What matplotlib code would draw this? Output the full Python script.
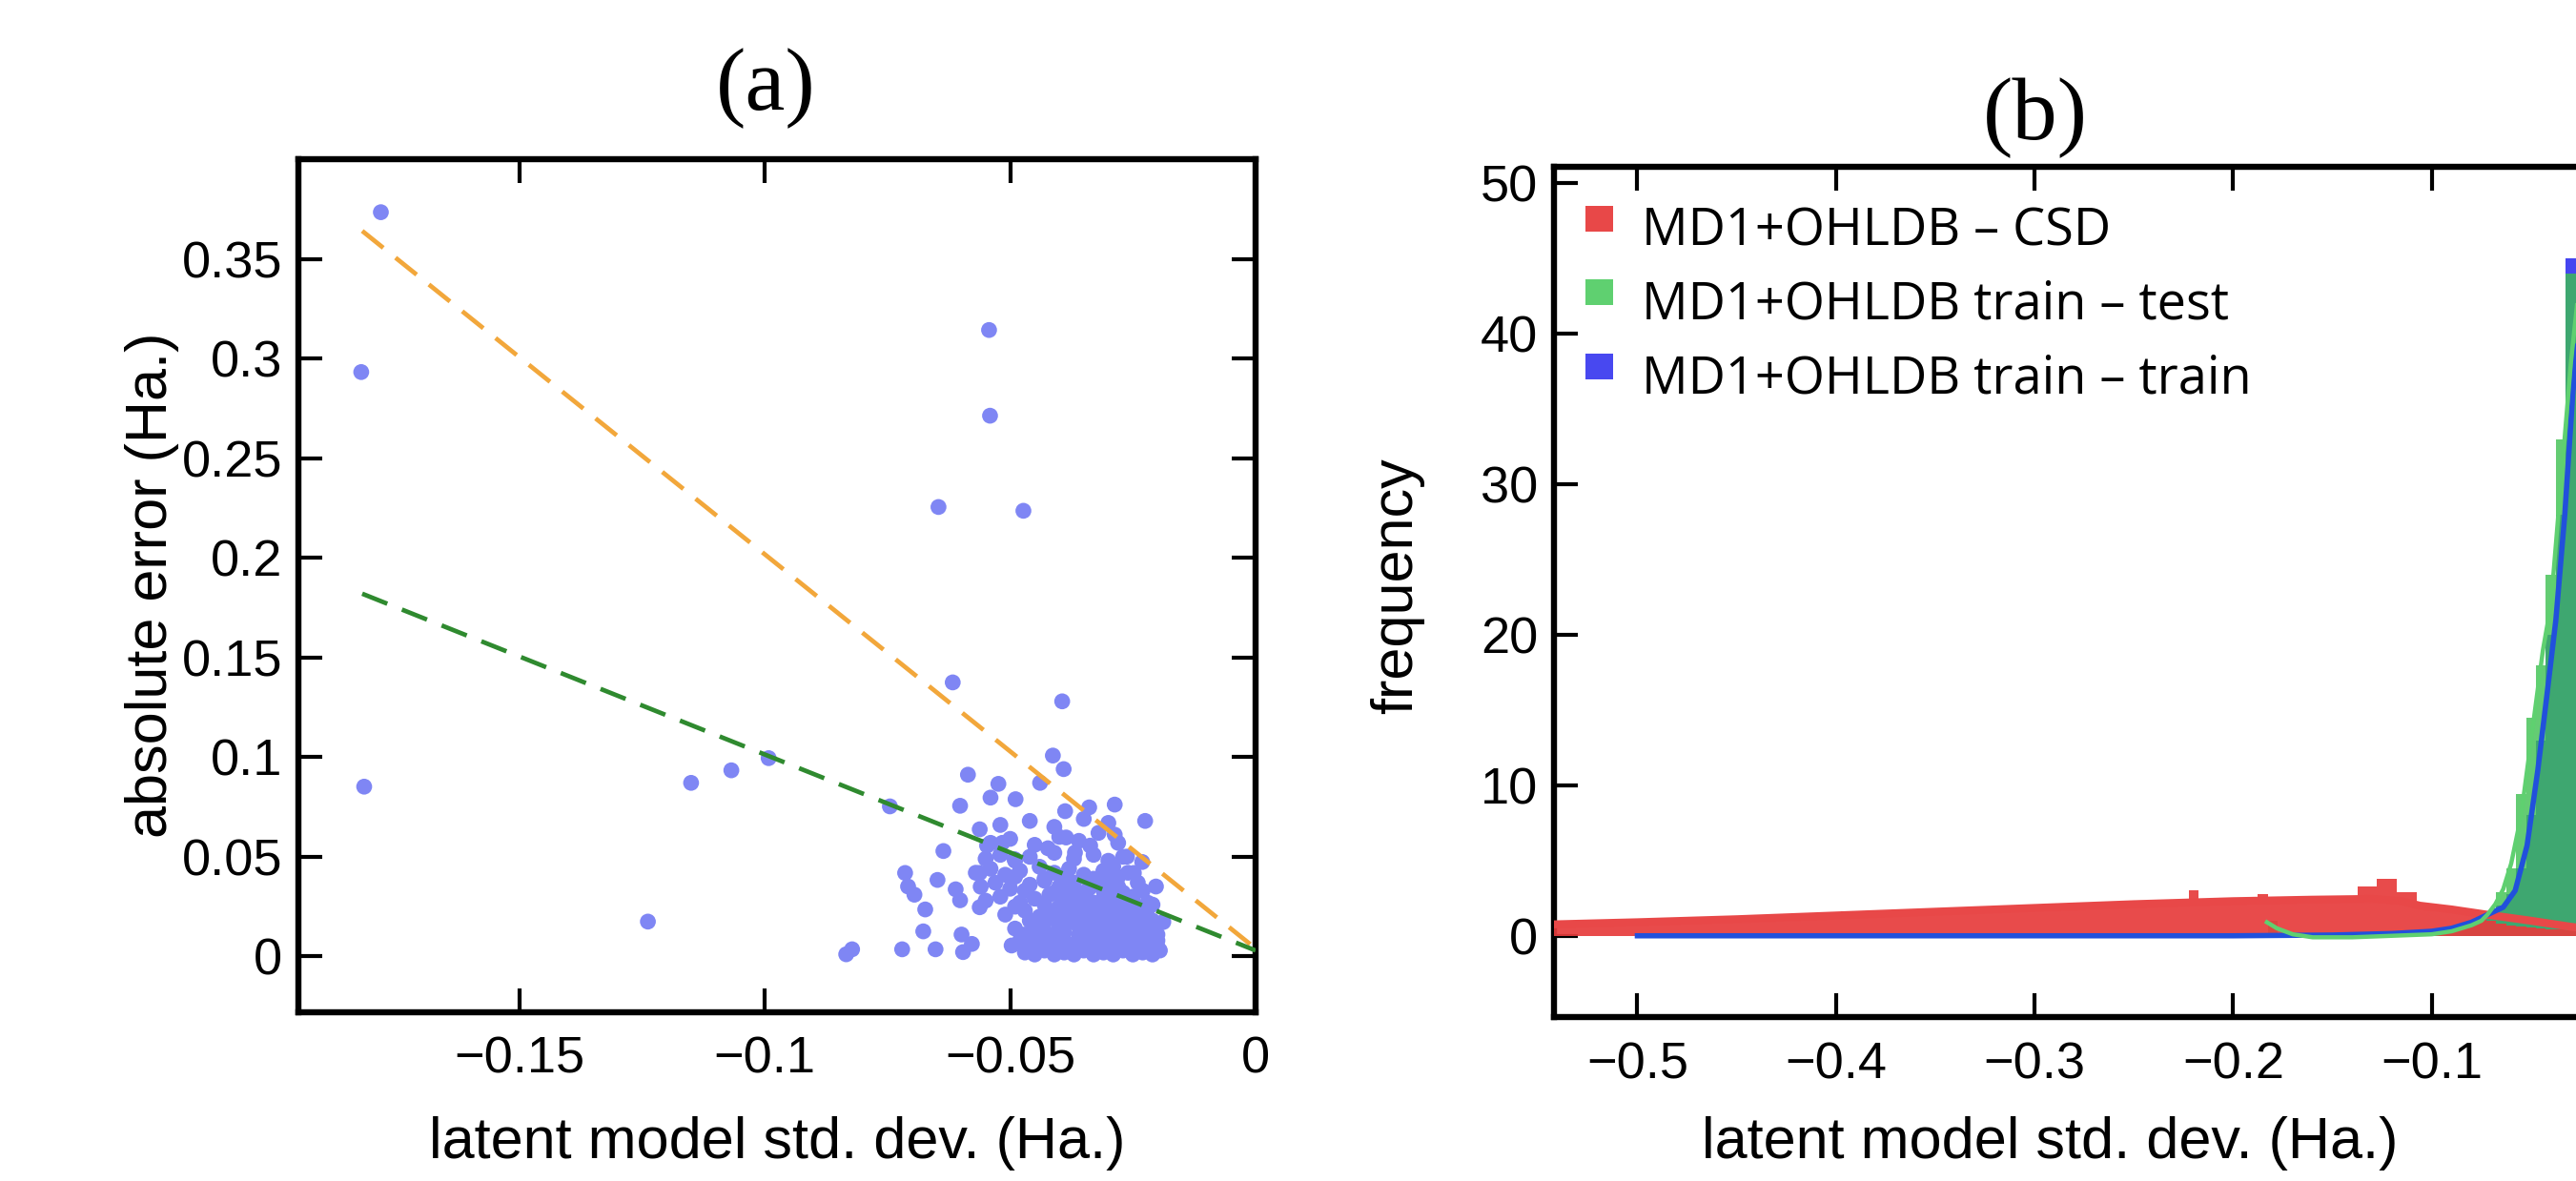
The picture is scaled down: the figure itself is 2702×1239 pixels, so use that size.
import numpy as np
import matplotlib.pyplot as plt
from matplotlib.patches import Rectangle

# ---------------- data: panel (a) ----------------
# outliers / sparse points (latent std, abs error)
sparse_x = [-0.1782, -0.1822, -0.1816, -0.1238, -0.1150, -0.1068, -0.0992, -0.0834, -0.0822,
            -0.0745, -0.0646, -0.0543, -0.0541, -0.0473, -0.0617, -0.0394, -0.0413, -0.0391,
            -0.0586, -0.0524, -0.0439, -0.0602, -0.0540, -0.0489, -0.0388, -0.0339, -0.0287,
            -0.0225, -0.0562, -0.0636, -0.0714, -0.0708, -0.0695, -0.0648, -0.0673, -0.0677,
            -0.0720, -0.0652, -0.0611, -0.0602, -0.0596, -0.0599, -0.0578, -0.0562, -0.0562,
            -0.0547, -0.0516, -0.0491, -0.0497, -0.0337, -0.0423, -0.0386, -0.0368, -0.0287,
            -0.0248, -0.0262, -0.0231, -0.0203, -0.0188]
sparse_y = [0.3734, 0.2932, 0.0852, 0.0175, 0.0871, 0.0934, 0.0995, 0.0011, 0.0036,
            0.0753, 0.2255, 0.3143, 0.2713, 0.2236, 0.1375, 0.1280, 0.1008, 0.0940,
            0.0912, 0.0866, 0.0871, 0.0756, 0.0797, 0.0789, 0.0729, 0.0748, 0.0762,
            0.0680, 0.0638, 0.0529, 0.0419, 0.0351, 0.0310, 0.0384, 0.0236, 0.0126,
            0.0036, 0.0036, 0.0337, 0.0282, 0.0022, 0.0110, 0.0063, 0.0247, 0.0419,
            0.0556, 0.0570, 0.0488, 0.0055, 0.0556, 0.0543, 0.0597, 0.0521, 0.0611,
            0.0419, 0.0501, 0.0474, 0.0351, 0.0173]

# dense cluster near the origin
cluster_x = [-0.047, -0.045, -0.043, -0.041, -0.039, -0.037, -0.035, -0.033, -0.031, -0.029, -0.027, -0.025, -0.023, -0.021, -0.0195,
             -0.046, -0.044, -0.042, -0.040, -0.038, -0.036, -0.034, -0.032, -0.030, -0.028, -0.026, -0.024, -0.022, -0.020,
             -0.048, -0.046, -0.044, -0.042, -0.040, -0.038, -0.036, -0.034, -0.032, -0.030, -0.028, -0.026, -0.024, -0.022, -0.020,
             -0.047, -0.044, -0.041, -0.039, -0.036, -0.034, -0.032, -0.030, -0.028, -0.026, -0.024, -0.022, -0.020,
             -0.049, -0.045, -0.043, -0.040, -0.037, -0.035, -0.033, -0.031, -0.029, -0.027, -0.025, -0.023, -0.021,
             -0.046, -0.042, -0.039, -0.036, -0.033, -0.031, -0.029, -0.027, -0.025, -0.023, -0.021,
             -0.051, -0.047, -0.044, -0.041, -0.038, -0.036, -0.034, -0.032, -0.030, -0.028, -0.026, -0.024, -0.022,
             -0.049, -0.043, -0.040, -0.037, -0.035, -0.032, -0.030, -0.027, -0.024, -0.021,
             -0.055, -0.052, -0.048, -0.045, -0.042, -0.039, -0.036, -0.033, -0.031, -0.029, -0.027, -0.025, -0.022,
             -0.047, -0.041, -0.038, -0.035, -0.031, -0.027, -0.023,
             -0.056, -0.053, -0.050, -0.046, -0.043, -0.040, -0.037, -0.034, -0.032, -0.030, -0.028, -0.024,
             -0.049, -0.043, -0.039, -0.033, -0.028,
             -0.057, -0.054, -0.051, -0.048, -0.044, -0.041, -0.038, -0.035, -0.031, -0.029, -0.026,
             -0.055, -0.052, -0.049, -0.046, -0.041, -0.037, -0.033, -0.030, -0.027,
             -0.054, -0.050, -0.045, -0.040, -0.036, -0.032, -0.028,
             -0.052, -0.046, -0.041, -0.035, -0.030]
cluster_y = [0.002, 0.001, 0.003, 0.001, 0.002, 0.001, 0.003, 0.001, 0.002, 0.001, 0.003, 0.001, 0.002, 0.001, 0.003,
             0.004, 0.005, 0.004, 0.005, 0.004, 0.005, 0.004, 0.005, 0.004, 0.005, 0.004, 0.005, 0.004, 0.005,
             0.008, 0.009, 0.007, 0.010, 0.008, 0.006, 0.009, 0.007, 0.010, 0.008, 0.006, 0.009, 0.007, 0.010, 0.008,
             0.011, 0.012, 0.011, 0.012, 0.011, 0.012, 0.011, 0.012, 0.011, 0.012, 0.011, 0.012, 0.011,
             0.014, 0.016, 0.013, 0.015, 0.017, 0.014, 0.016, 0.013, 0.015, 0.017, 0.014, 0.016, 0.013,
             0.018, 0.019, 0.018, 0.019, 0.018, 0.019, 0.018, 0.019, 0.018, 0.019, 0.018,
             0.021, 0.023, 0.020, 0.022, 0.024, 0.021, 0.023, 0.020, 0.022, 0.024, 0.021, 0.023, 0.020,
             0.025, 0.026, 0.025, 0.026, 0.025, 0.026, 0.025, 0.026, 0.025, 0.026,
             0.028, 0.030, 0.027, 0.029, 0.031, 0.028, 0.030, 0.027, 0.029, 0.031, 0.028, 0.030, 0.027,
             0.033, 0.032, 0.033, 0.032, 0.033, 0.032, 0.033,
             0.035, 0.037, 0.034, 0.036, 0.038, 0.035, 0.037, 0.034, 0.036, 0.038, 0.035, 0.037,
             0.040, 0.039, 0.040, 0.039, 0.040,
             0.042, 0.044, 0.041, 0.043, 0.045, 0.042, 0.044, 0.041, 0.043, 0.045, 0.042,
             0.049, 0.051, 0.048, 0.050, 0.052, 0.049, 0.051, 0.048, 0.050,
             0.057, 0.059, 0.056, 0.060, 0.058, 0.062, 0.057,
             0.066, 0.068, 0.065, 0.069, 0.067]

# dashed fit lines (end points)
fit_orange_x = [-0.182, 0.0]
fit_orange_y = [0.364, 0.004]
fit_green_x = [-0.182, 0.0]
fit_green_y = [0.182, 0.003]

a_xticks = [-0.15, -0.1, -0.05, 0]
a_xticklabels = ['\u22120.15', '\u22120.1', '\u22120.05', '0']
a_yticks = [0, 0.05, 0.1, 0.15, 0.2, 0.25, 0.3, 0.35]
a_yticklabels = ['0', '0.05', '0.1', '0.15', '0.2', '0.25', '0.3', '0.35']

# ---------------- data: panel (b) ----------------
bin_w = 0.005
# MD1+OHLDB - CSD histogram, bins centred -0.540 ... -0.030
csd_start = -0.540
csd_heights = [0.85, 0.8, 0.8, 0.85, 0.75, 0.85, 0.9, 0.85, 0.9,
               0.9, 0.95, 0.9, 0.85, 0.95, 1.0, 0.95, 1.0, 1.05, 1.0,
               1.05, 1.1, 1.0, 1.1, 1.15, 1.1, 1.2, 1.15, 1.25, 1.3,
               1.6, 1.3, 1.35, 1.3, 1.4, 1.45, 1.4, 1.5, 1.45, 1.55,
               1.55, 1.6, 1.55, 1.65, 1.6, 1.7, 1.65, 1.75, 1.7, 1.8,
               1.8, 1.85, 1.9, 1.85, 1.95, 2.0, 1.95, 2.05, 2.0, 2.1,
               2.1, 2.15, 2.1, 2.2, 2.25, 3.05, 2.2, 2.25, 2.3, 2.25,
               2.3, 2.35, 2.75, 2.3, 2.35, 2.4, 2.35, 2.4, 2.4, 2.45,
               2.45, 2.5, 3.3, 3.3, 3.8, 3.8, 2.9, 2.9, 2.1, 1.95,
               1.8, 1.7, 1.6, 1.45, 1.3, 1.0, 0.8, 0.7, 0.6, 0.55,
               0.5, 0.45, 0.4, 0.35]

# train - test histogram, bins centred -0.180 ... -0.025
test_start = -0.180
test_heights = [1.0, 0, 0, 0.2, 0, 0, 0, 0, 0, 0.2, 0, 0, 0, 0, 0.2, 0,
                0.3, 0.3, 0.4, 0.5, 0.7, 1.0, 1.6, 2.9, 4.5, 9.4, 14.5, 18, 24, 33, 44, 46]

# train - train histogram, bins centred -0.100 ... -0.025
train_start = -0.100
train_heights = [0.2, 0.3, 0.4, 0.6, 0.8, 1.1, 1.5, 2.0, 2.8, 4.5, 8, 13, 20, 28, 45, 47]

# density curves
csd_kde_x = [-0.545, -0.50, -0.45, -0.40, -0.35, -0.30, -0.25, -0.20, -0.16, -0.13, -0.115,
             -0.106, -0.09, -0.072, -0.05, -0.03, -0.01]
csd_kde_y = [0.75, 0.9, 1.1, 1.35, 1.6, 1.85, 2.1, 2.3, 2.4, 2.45, 2.3,
             2.0, 1.75, 1.4, 1.0, 0.6, 0.3]
test_kde_x = [-0.183, -0.178, -0.17, -0.16, -0.14, -0.12, -0.10, -0.09, -0.08, -0.075, -0.072,
              -0.068, -0.064, -0.060, -0.055, -0.0515, -0.047, -0.044, -0.040, -0.035, -0.030, -0.026, -0.022]
test_kde_y = [0.9, 0.5, 0.1, -0.1, -0.1, 0.0, 0.1, 0.3, 0.7, 1.0, 1.4,
              2.1, 3.1, 4.8, 8.0, 11.5, 16, 19, 22, 30, 38, 43, 46]
train_kde_x = [-0.50, -0.40, -0.30, -0.20, -0.15, -0.12, -0.10, -0.09, -0.08, -0.072,
               -0.064, -0.058, -0.052, -0.0466, -0.042, -0.0375, -0.033, -0.029, -0.025, -0.021]
train_kde_y = [0, 0, 0, 0, 0.05, 0.15, 0.3, 0.5, 0.9, 1.4,
               1.9, 3.0, 6.0, 11, 16, 21, 28, 36, 42, 45]

b_xticks = [-0.5, -0.4, -0.3, -0.2, -0.1]
b_xticklabels = ['\u22120.5', '\u22120.4', '\u22120.3', '\u22120.2', '\u22120.1']
b_yticks = [0, 10, 20, 30, 40, 50]
b_yticklabels = ['0', '10', '20', '30', '40', '50']

legend_labels = ['MD1+OHLDB \u2013 CSD', 'MD1+OHLDB train \u2013 test', 'MD1+OHLDB train \u2013 train']
legend_colors = ['#e84848', '#5fd070', '#4848f0']

# ---------------- figure ----------------
W, H = 2702, 1239
DPI = 200
plt.rcParams['font.family'] = ['Liberation Sans', 'DejaVu Sans']
fig = plt.figure(figsize=(W / DPI, H / DPI), dpi=DPI)


def px_axes(left, top, right, bottom):
    return fig.add_axes([left / W, 1 - bottom / H, (right - left) / W, (bottom - top) / H])


def style_axes(ax):
    for s in ax.spines.values():
        s.set_linewidth(2.3)
    ax.tick_params(direction='in', top=True, right=True, length=9, width=1.5,
                   labelsize=19.5, pad=9)
    ax.tick_params(axis='y', pad=6)


# panel (a)
ax1 = px_axes(313, 167, 1317, 1062)
ax1.scatter(sparse_x + cluster_x, sparse_y + cluster_y, s=36, color='#7f86f4',
            edgecolors='none', zorder=2)
ax1.plot(fit_orange_x, fit_orange_y, color='#f2a73b', lw=1.7, dashes=(6, 3.5), zorder=3)
ax1.plot(fit_green_x, fit_green_y, color='#2f8a2f', lw=1.7, dashes=(6, 3.5), zorder=3)
ax1.set_xlim(-0.195, 0.0)
ax1.set_ylim(-0.028, 0.4)
ax1.set_xticks(a_xticks)
ax1.set_xticklabels(a_xticklabels)
ax1.set_yticks(a_yticks)
ax1.set_yticklabels(a_yticklabels)
style_axes(ax1)

# panel (b), runs past the right edge of the figure
ax2 = px_axes(1630, 175, 2759, 1067)
train_centres = [train_start + i * bin_w for i in range(len(train_heights))]
test_centres = [test_start + i * bin_w for i in range(len(test_heights))]
csd_centres = [csd_start + i * bin_w for i in range(len(csd_heights))]
ax2.bar(train_centres, train_heights, width=bin_w, color='#4545f0', lw=0, zorder=1)
ax2.bar(test_centres, test_heights, width=bin_w, color='#3dc050', alpha=0.8, lw=0, zorder=2)
ax2.bar(csd_centres, csd_heights, width=bin_w, color='#e63c3c', alpha=0.92, lw=0, zorder=3)
ax2.plot(csd_kde_x, csd_kde_y, color='#e84848', lw=3, zorder=4)
ax2.plot(train_kde_x, train_kde_y, color='#2150dc', lw=2.0, zorder=5)
ax2.plot(test_kde_x, test_kde_y, color='#5fd070', lw=1.6, zorder=6)
ax2.set_xlim(-0.542, 0.0)
ax2.set_ylim(-5.4, 51.1)
ax2.set_xticks(b_xticks)
ax2.set_xticklabels(b_xticklabels)
ax2.set_yticks(b_yticks)
ax2.set_yticklabels(b_yticklabels)
style_axes(ax2)

# legend drawn by hand: square swatch + label per row (pixel rows of the reference)
row_baselines = [258, 335, 413]
for label, colour, base in zip(legend_labels, legend_colors, row_baselines):
    fig.patches.append(Rectangle((1663 / W, 1 - (base - 15) / H), 29 / W, 27 / H,
                                 transform=fig.transFigure, color=colour, lw=0))
    fig.text(1722 / W, 1 - base / H, label, ha='left', va='baseline', fontsize=19.5,
             family=['Open Sans', 'DejaVu Sans'])

# labels and panel titles
label_size = 22
fig.text(815 / W, 1 - 1200 / H, 'latent model std. dev. (Ha.)', ha='center', va='center', fontsize=label_size)
fig.text(2150 / W, 1 - 1200 / H, 'latent model std. dev. (Ha.)', ha='center', va='center', fontsize=label_size)
fig.text(160 / W, 1 - 614 / H, 'absolute error (Ha.)', ha='center', va='center', rotation=90, fontsize=label_size)
fig.text(1466 / W, 1 - 615 / H, 'frequency', ha='center', va='center', rotation=90, fontsize=label_size)
fig.text(803 / W, 1 - 93 / H, '(a)', ha='center', va='center', fontsize=34,
         family=['Liberation Serif', 'DejaVu Serif'])
fig.text(2135 / W, 1 - 124 / H, '(b)', ha='center', va='center', fontsize=34,
         family=['Liberation Serif', 'DejaVu Serif'])

fig.savefig('out.png', dpi=DPI)
